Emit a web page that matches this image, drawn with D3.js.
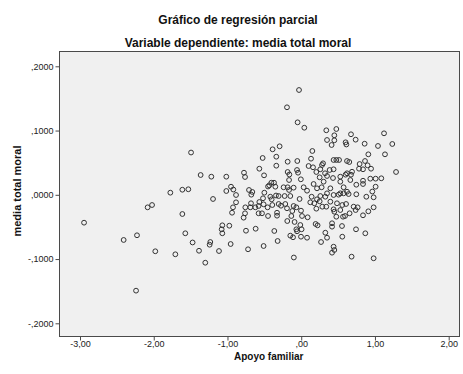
<!DOCTYPE html>
<html>
<head>
<meta charset="utf-8">
<script src="https://cdn.jsdelivr.net/npm/d3@7"></script>
<style>
html,body{margin:0;padding:0;background:#fff;}
svg{display:block;font-family:"Liberation Sans",Arial,sans-serif;}
</style>
</head>
<body>
<svg id="chart" width="463" height="374"></svg>
<script>
// Tick values
const xTickValues = [-3, -2, -1, 0, 1, 2];
const yTickValues = [-0.2, -0.1, 0, 0.1, 0.2];

// Partial regression residuals: Apoyo familiar (x) vs media total moral (y)
const apoyoFamiliar = [
-2.945,-2.408,-2.227,-2.240,-2.083,-2.023,-1.979,-1.775,-1.707,-1.612,
-1.531,-1.612,-1.572,-1.494,-1.473,-1.386,-1.364,-1.219,-1.196,-1.016,
-1.016,-0.952,-0.921,-0.884,-0.884,-0.925,-0.938,-1.070,-1.079,-1.070,
-0.975,-1.233,-1.242,-0.957,-1.115,-1.301,-0.776,-0.762,-0.708,-0.663,
-0.677,-0.681,-0.758,-0.690,-0.622,-0.568,-0.578,-0.510,-0.500,-0.518,
-0.419,-0.401,-0.392,-0.456,-0.433,-0.450,-0.369,-0.405,-0.342,-0.306,
-0.306,-0.762,-0.781,-0.578,-0.532,-0.450,-0.328,-0.328,-0.749,-0.618,
-0.365,-0.320,-0.721,-0.510,-0.568,-0.504,-0.523,-0.338,-0.338,-0.388,
-0.293,-0.351,-0.193,-0.184,-0.184,-0.161,-0.239,-0.184,-0.165,-0.225,
-0.148,-0.216,-0.193,-0.103,-0.066,-0.121,-0.134,-0.189,-0.090,-0.066,
-0.057,-0.148,-0.111,-0.100,-0.030,-0.049,-0.053,-0.057,-0.043,-0.165,
-0.103,-0.022,-0.274,-0.005,0.042,0.340,0.476,0.449,0.350,0.449,
0.412,0.151,0.133,0.296,0.439,0.476,0.513,0.100,0.160,0.205,
0.259,0.385,0.439,0.323,0.250,0.350,0.431,0.168,0.304,0.033,
0.079,0.214,0.277,0.395,0.350,0.259,0.439,0.141,0.123,0.178,
0.250,0.286,0.340,0.205,0.214,0.327,0.507,0.395,0.485,0.439,
0.449,0.476,-0.003,0.011,0.087,-0.012,0.005,-0.003,0.079,0.195,
0.222,0.418,0.418,0.327,0.350,0.269,0.439,0.449,0.418,0.282,
0.530,0.530,0.530,0.530,0.602,0.612,0.675,0.738,0.860,1.123,
1.041,0.910,1.136,1.235,1.286,1.086,0.621,0.652,0.792,0.865,
0.900,0.947,0.838,0.621,0.689,0.784,0.602,0.675,0.937,1.009,
0.838,0.838,1.009,0.747,0.666,0.575,0.621,0.747,0.883,0.982,
0.964,0.575,0.643,0.557,0.608,0.711,0.765,0.738,0.656,0.567,
0.594,0.838,0.910,0.982,0.553,0.743,0.869,0.557,0.683,0.982
];
const mediaTotalMoral = [
-0.0434,-0.0703,-0.0630,-0.1492,-0.0195,-0.0159,-0.0879,0.0033,-0.0926,0.0079,
0.0086,-0.0299,-0.0599,0.0658,-0.0742,-0.0871,0.0308,0.0282,-0.0065,0.0282,
0.0059,0.0126,0.0082,-0.0003,-0.0117,-0.0195,-0.0279,-0.0475,-0.0537,-0.0599,
-0.0481,-0.0735,-0.0777,-0.0766,-0.0875,-0.1057,0.0344,0.0277,0.0075,0.0044,
0.0002,-0.0132,-0.0195,-0.0195,-0.0195,-0.0112,-0.0174,-0.0148,0.0033,-0.0054,
-0.0030,-0.0070,-0.0159,-0.0195,0.0148,0.0129,0.0188,0.0188,-0.0011,-0.0019,
-0.0143,-0.0288,-0.0356,-0.0288,-0.0288,-0.0330,-0.0279,-0.0325,-0.0559,-0.0528,
-0.0563,-0.0719,-0.0848,-0.0797,0.0406,0.0303,0.0573,0.0593,0.0453,0.0708,
0.0755,0.0126,0.1362,0.0515,0.0355,0.0316,0.0117,0.0117,0.0075,-0.0019,
-0.0019,-0.0143,-0.0210,-0.0174,-0.0195,-0.0252,-0.0330,-0.0408,-0.0423,-0.0537,
-0.0568,-0.0636,-0.0661,-0.0976,0.1631,0.1128,0.0526,0.0386,0.0344,0.0230,
0.0111,-0.0065,-0.0170,0.0241,0.1044,0.1004,0.1024,0.0926,0.0853,0.0848,
0.0775,0.0682,0.0562,0.0490,0.0542,0.0542,0.0542,0.0448,0.0428,0.0355,
0.0397,0.0386,0.0397,0.0335,0.0272,0.0293,0.0261,0.0168,0.0204,0.0117,
0.0064,0.0101,0.0117,0.0101,0.0023,-0.0019,-0.0003,-0.0030,-0.0117,-0.0132,
-0.0101,-0.0185,-0.0185,-0.0216,-0.0070,-0.0030,0.0002,-0.0107,-0.0132,-0.0226,
-0.0263,-0.0341,-0.0247,-0.0330,-0.0350,-0.0470,-0.0537,-0.0652,-0.0668,-0.0454,
-0.0475,-0.0443,-0.0496,-0.0590,-0.0668,-0.0735,-0.0808,-0.0859,-0.0901,0.0464,
0.0282,0.0204,0.0023,-0.0237,0.0817,0.0783,0.0942,0.0858,0.0795,0.0957,
0.0760,0.0630,0.0630,0.0791,0.0355,0.0257,0.0526,0.0510,0.0479,0.0526,
0.0459,0.0406,0.0397,0.0335,0.0359,0.0406,0.0313,0.0313,0.0251,0.0251,
0.0219,0.0168,0.0126,0.0157,0.0230,0.0117,0.0048,0.0008,-0.0030,-0.0039,
0.0051,0.0023,0.0012,-0.0159,-0.0143,-0.0185,-0.0195,-0.0237,-0.0288,-0.0341,
-0.0330,-0.0319,-0.0257,-0.0195,-0.0486,-0.0537,-0.0599,-0.0652,-0.0963,-0.0988
];

const svg = d3.select("#chart");
const frame = {left: 59.5, right: 459.5, top: 51.5, bottom: 336.5};

const x = d3.scaleLinear().domain([-3, 2]).range([80, 448.7]);
const y = d3.scaleLinear().domain([-0.2, 0.2]).range([323.3, 66.3]);

const loc = d3.formatLocale({decimal: ",", thousands: ".", grouping: [3], currency: ["", ""], minus: "-"});
const fx = v => loc.format(".2f")(v).replace(/^(-?)0,/, "$1,");
const fy = v => loc.format(".4f")(v).replace(/^(-?)0,/, "$1,");

// Titles
svg.append("text").attr("x", 238).attr("y", 24).attr("text-anchor", "middle")
  .attr("font-size", 12).attr("font-weight", "bold").attr("fill", "#111")
  .text("Gráfico de regresión parcial");
svg.append("text").attr("x", 238).attr("y", 46.5).attr("text-anchor", "middle")
  .attr("font-size", 12).attr("font-weight", "bold").attr("fill", "#111")
  .text("Variable dependiente: media total moral");

// Plot background
svg.append("rect")
  .attr("x", frame.left).attr("y", frame.top)
  .attr("width", frame.right - frame.left).attr("height", frame.bottom - frame.top)
  .attr("fill", "#f0f0f0").attr("stroke", "#4a4a4a").attr("stroke-width", 1);

// Axes
const xAxis = svg.append("g").attr("transform", `translate(0,${frame.bottom})`)
  .call(d3.axisBottom(x).tickValues(xTickValues).tickFormat(fx).tickSize(4).tickSizeOuter(0));
const yAxis = svg.append("g").attr("transform", `translate(${frame.left},0)`)
  .call(d3.axisLeft(y).tickValues(yTickValues).tickFormat(fy).tickSize(4).tickSizeOuter(0));
[xAxis, yAxis].forEach(g => {
  g.select(".domain").remove();
  g.selectAll(".tick line").attr("stroke", "#4a4a4a");
  g.selectAll(".tick text").attr("font-size", 9).attr("fill", "#222")
    .attr("font-family", "'Liberation Sans',Arial,sans-serif");
});
xAxis.selectAll(".tick text").attr("dy", "0.71em").attr("y", 4);
yAxis.selectAll(".tick text").attr("x", -6);

// Axis labels
svg.append("text").attr("x", 268.7).attr("y", 360).attr("text-anchor", "middle")
  .attr("font-size", 10).attr("font-weight", "bold").attr("fill", "#111")
  .text("Apoyo familiar");
svg.append("text").attr("transform", "translate(20.5,191) rotate(-90)")
  .attr("text-anchor", "middle")
  .attr("font-size", 11).attr("font-weight", "bold").attr("fill", "#111")
  .text("media total moral");

// Points
const pts = apoyoFamiliar.map((v, i) => ({x: v, y: mediaTotalMoral[i]}));
svg.append("g").selectAll("circle").data(pts).join("circle")
  .attr("cx", d => x(d.x)).attr("cy", d => y(d.y)).attr("r", 2.4)
  .attr("fill", "none").attr("stroke", "#333").attr("stroke-width", 1);
</script>
</body>
</html>
